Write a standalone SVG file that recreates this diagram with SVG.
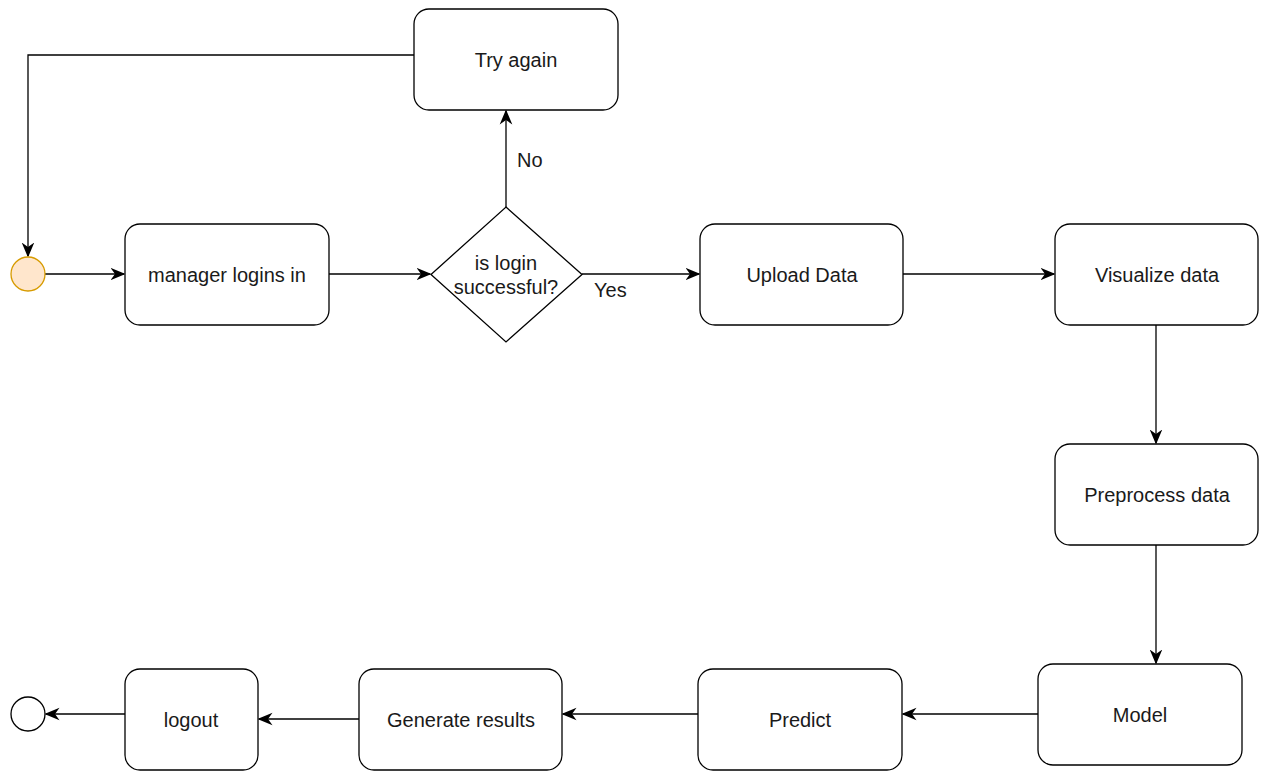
<svg xmlns="http://www.w3.org/2000/svg" width="1267" height="772" viewBox="0 0 1267 772">
<style>
.box{fill:#ffffff;stroke:#000000;stroke-width:1.3}
.lbl{font-family:"Liberation Sans",Arial,sans-serif;font-size:20px;fill:#1a1a1a;text-anchor:middle;dominant-baseline:central}
.edge{fill:none;stroke:#000000;stroke-width:1.3}
.elbl{font-family:"Liberation Sans",Arial,sans-serif;font-size:20px;fill:#1a1a1a;dominant-baseline:central}
</style>
<defs>
<marker id="arr" viewBox="0 0 10 10" refX="9" refY="5" markerWidth="15" markerHeight="15" markerUnits="userSpaceOnUse" orient="auto">
<path d="M0,0.8 L10,5 L0,9.2 L3,5 Z" fill="#000000"/>
</marker>
</defs>
<rect width="1267" height="772" fill="#ffffff"/>
<g id="connectors">
<path class="edge" d="M414,55 L28,55 L28,256" marker-end="url(#arr)"/>
<path class="edge" d="M45,274 L124,274" marker-end="url(#arr)"/>
<path class="edge" d="M329,274 L430,274" marker-end="url(#arr)"/>
<path class="edge" d="M582,274 L699,274" marker-end="url(#arr)"/>
<text class="elbl" x="594" y="290">Yes</text>
<path class="edge" d="M506,207 L506,111" marker-end="url(#arr)"/>
<text class="elbl" x="517" y="160">No</text>
<path class="edge" d="M903,274 L1054,274" marker-end="url(#arr)"/>
<path class="edge" d="M1156,325 L1156,443" marker-end="url(#arr)"/>
<path class="edge" d="M1156,545 L1156,663" marker-end="url(#arr)"/>
<path class="edge" d="M1038,714 L903,714" marker-end="url(#arr)"/>
<path class="edge" d="M698,714 L563,714" marker-end="url(#arr)"/>
<path class="edge" d="M359,719 L259,719" marker-end="url(#arr)"/>
<path class="edge" d="M125,714 L46,714" marker-end="url(#arr)"/>
</g>
<g id="start"><circle cx="28" cy="274" r="17" fill="#ffe6cc" stroke="#d79b00" stroke-width="1.3"/></g>
<g id="manager"><rect class="box" x="125" y="224" width="204" height="101" rx="15"/><text class="lbl" x="227" y="275">manager logins in</text></g>
<g id="decision"><path class="box" d="M506,207 L582,274.5 L506,342 L431,274.5 Z"/><text class="lbl" x="506" y="263">is login</text><text class="lbl" x="506" y="287">successful?</text></g>
<g id="tryagain"><rect class="box" x="414" y="9" width="204" height="101" rx="15"/><text class="lbl" x="516" y="60">Try again</text></g>
<g id="upload"><rect class="box" x="700" y="224" width="203" height="101" rx="15"/><text class="lbl" x="802" y="275">Upload Data</text></g>
<g id="visualize"><rect class="box" x="1055" y="224" width="203" height="101" rx="15"/><text class="lbl" x="1157" y="275">Visualize data</text></g>
<g id="preprocess"><rect class="box" x="1055" y="444" width="203" height="101" rx="15"/><text class="lbl" x="1157" y="495">Preprocess data</text></g>
<g id="model"><rect class="box" x="1038" y="664" width="204" height="101" rx="15"/><text class="lbl" x="1140" y="715">Model</text></g>
<g id="predict"><rect class="box" x="698" y="669" width="204" height="101" rx="15"/><text class="lbl" x="800" y="720">Predict</text></g>
<g id="generate"><rect class="box" x="359" y="669" width="203" height="101" rx="15"/><text class="lbl" x="461" y="720">Generate results</text></g>
<g id="logout"><rect class="box" x="125" y="669" width="133" height="101" rx="15"/><text class="lbl" x="191" y="720">logout</text></g>
<g id="end"><circle cx="28" cy="714" r="17" fill="#ffffff" stroke="#000000" stroke-width="1.3"/></g>
</svg>
